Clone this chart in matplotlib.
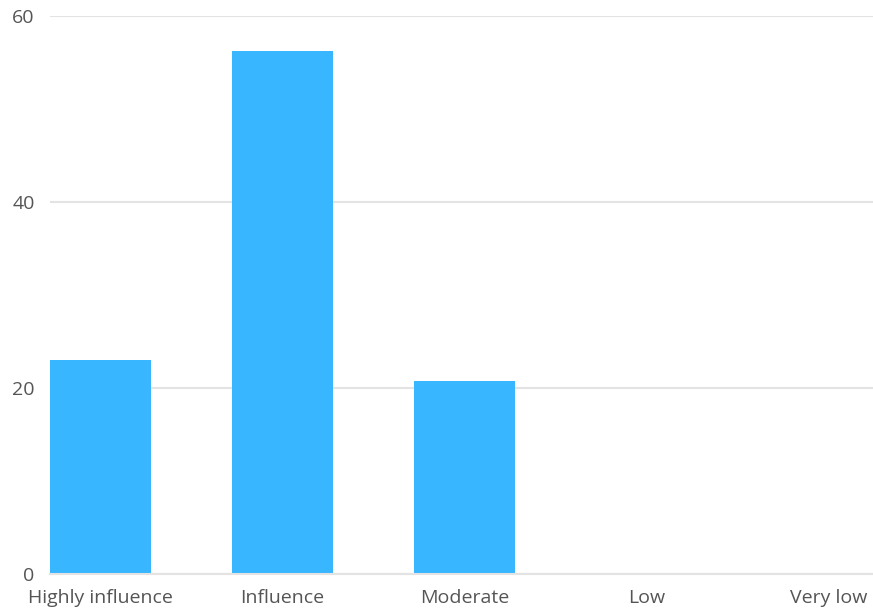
import matplotlib
matplotlib.use("Agg")
import matplotlib.pyplot as plt

categories = ["Highly influence", "Influence", "Moderate", "Low", "Very low"]
values = [23, 56.2, 20.8, 0, 0]
yticks = [0, 20, 40, 60]

plt.rcParams['font.family'] = ['Open Sans', 'DejaVu Sans']

fig = plt.figure(figsize=(8.73, 6.14), dpi=100)
ax = fig.add_axes([50/873, 1 - 574/614, 1 - 50/873, (574 - 16)/614])

x = list(range(len(categories)))
ax.bar(x, values, width=0.555, color="#38B6FF", zorder=2)
ax.set_xlim(-0.2775, 4.244)
ax.set_ylim(0, 60)
ax.set_yticks(yticks)
ax.set_xticks(x)
ax.set_xticklabels(categories)
ax.grid(axis="y", color="#e3e3e3", linewidth=1.5, zorder=0)
ax.tick_params(axis="both", length=0, labelsize=14, colors="#555555")
ax.tick_params(axis="y", pad=11)
ax.tick_params(axis="x", pad=11)
for s in ["top", "right", "left"]:
    ax.spines[s].set_visible(False)
ax.spines["bottom"].set_color("#e3e3e3")
ax.spines["bottom"].set_linewidth(1.5)

fig.savefig("out.png", dpi=100)
